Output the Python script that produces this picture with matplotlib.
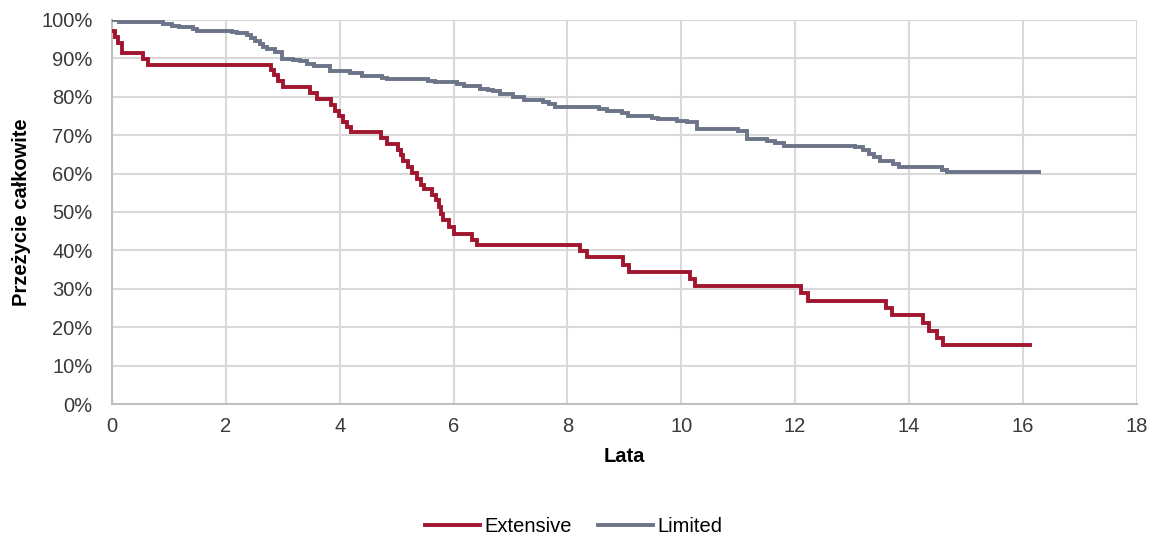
import matplotlib
matplotlib.use("Agg")
import matplotlib.pyplot as plt
from matplotlib.ticker import FuncFormatter

plt.rcParams['font.family'] = ['Liberation Sans', 'DejaVu Sans']

# Extensive: times (years) and survival (%) after each step
ext_t = [0.0, 0.05, 0.10, 0.17, 0.55, 0.64,
         2.79, 2.85, 2.92, 3.01, 3.47, 3.60,
         3.84, 3.92, 3.98, 4.05, 4.12, 4.20, 4.73, 4.83,
         5.03, 5.07, 5.12, 5.20, 5.27, 5.35, 5.42, 5.48,
         5.62, 5.70, 5.75, 5.78, 5.82, 5.92, 6.00, 6.32, 6.42,
         8.22, 8.34, 8.97, 9.08, 10.15, 10.25, 12.10, 12.22,
         13.60, 13.71, 14.24, 14.35, 14.50, 14.60, 16.13]
ext_s = [97.2, 95.5, 94.0, 91.4, 89.8, 88.3,
         87.0, 85.7, 84.0, 82.4, 80.9, 79.4,
         77.9, 76.4, 74.9, 73.4, 72.0, 70.8, 69.3, 67.8,
         66.2, 64.7, 63.2, 61.6, 60.1, 58.6, 57.1, 56.0,
         54.5, 53.0, 51.3, 49.5, 47.8, 46.2, 44.4, 42.8, 41.3,
         39.8, 38.2, 36.3, 34.3, 32.5, 30.7, 28.8, 26.9,
         25.1, 23.3, 21.1, 19.0, 17.2, 15.3, 15.3]

# Limited
lim_t = [0.0, 0.12, 0.90, 1.05, 1.17, 1.43, 1.49, 2.10, 2.19,
         2.37, 2.45, 2.51, 2.60, 2.66, 2.72, 2.86, 2.98,
         3.18, 3.30, 3.42, 3.54, 3.83, 4.18, 4.39, 4.74, 4.83,
         5.56, 5.68, 6.06, 6.18, 6.47, 6.60, 6.70, 6.82, 7.05, 7.23,
         7.58, 7.68, 7.78, 8.55, 8.69, 8.96, 9.07, 9.48, 9.60,
         9.92, 10.10, 10.27, 11.00, 11.15, 11.50, 11.65, 11.80,
         13.06, 13.20, 13.30, 13.38, 13.50, 13.73, 13.82, 14.58, 14.67,
         15.70, 16.28]
lim_s = [100.0, 99.5, 98.9, 98.4, 98.1, 97.5, 97.1, 96.8, 96.5,
         96.0, 95.4, 94.5, 93.6, 93.0, 92.4, 91.6, 89.9,
         89.5, 89.2, 88.5, 87.9, 86.8, 86.1, 85.3, 84.9, 84.6,
         84.1, 83.7, 83.3, 82.8, 82.1, 81.7, 81.4, 80.6, 80.0, 79.2,
         78.6, 78.0, 77.4, 76.9, 76.4, 75.7, 75.0, 74.5, 74.1,
         73.7, 73.3, 71.6, 71.2, 68.9, 68.5, 68.0, 67.3,
         66.9, 66.1, 65.2, 64.4, 63.3, 62.5, 61.6, 60.9, 60.3,
         60.5, 60.3]

x_ticks = [0, 2, 4, 6, 8, 10, 12, 14, 16, 18]
y_ticks = [0, 10, 20, 30, 40, 50, 60, 70, 80, 90, 100]

FS = 14.5

fig = plt.figure(figsize=(11.55, 5.36), dpi=100)
ax = fig.add_axes([0.097, 0.246, 0.887, 0.717])

ax.step(ext_t, ext_s, where='post', color='#A1162F', lw=2.8, label='Extensive',
        solid_joinstyle='miter', zorder=3)
ax.step(lim_t, lim_s, where='post', color='#6C7489', lw=2.8, label='Limited',
        solid_joinstyle='miter', zorder=3)

ax.set_xlim(0, 18)
ax.set_ylim(0, 100)
ax.set_xticks(x_ticks)
ax.set_yticks(y_ticks)
ax.yaxis.set_major_formatter(FuncFormatter(lambda v, p: f"{int(v)}%"))
ax.grid(True, color='#D9D9D9', lw=1.5)
ax.set_axisbelow(True)
for s in ['top', 'right']:
    ax.spines[s].set_visible(False)
for s in ['left', 'bottom']:
    ax.spines[s].set_color('#BFBFBF')
    ax.spines[s].set_linewidth(1.5)
ax.tick_params(length=0, labelsize=FS, colors='#3A3A3A')
ax.tick_params(axis='x', pad=9.5)
ax.tick_params(axis='y', pad=14)
ax.set_xlabel('Lata', fontsize=FS, fontweight='bold', labelpad=7.5)
ax.set_ylabel('Przeżycie całkowite', fontsize=FS, fontweight='bold', labelpad=7)

fig.legend(loc='center', bbox_to_anchor=(0.497, 9.5 / 536), ncol=2, frameon=False,
           fontsize=FS, handlelength=2.7, columnspacing=1.3, handletextpad=0.25,
           borderpad=0)

fig.savefig('out.png', dpi=100)
